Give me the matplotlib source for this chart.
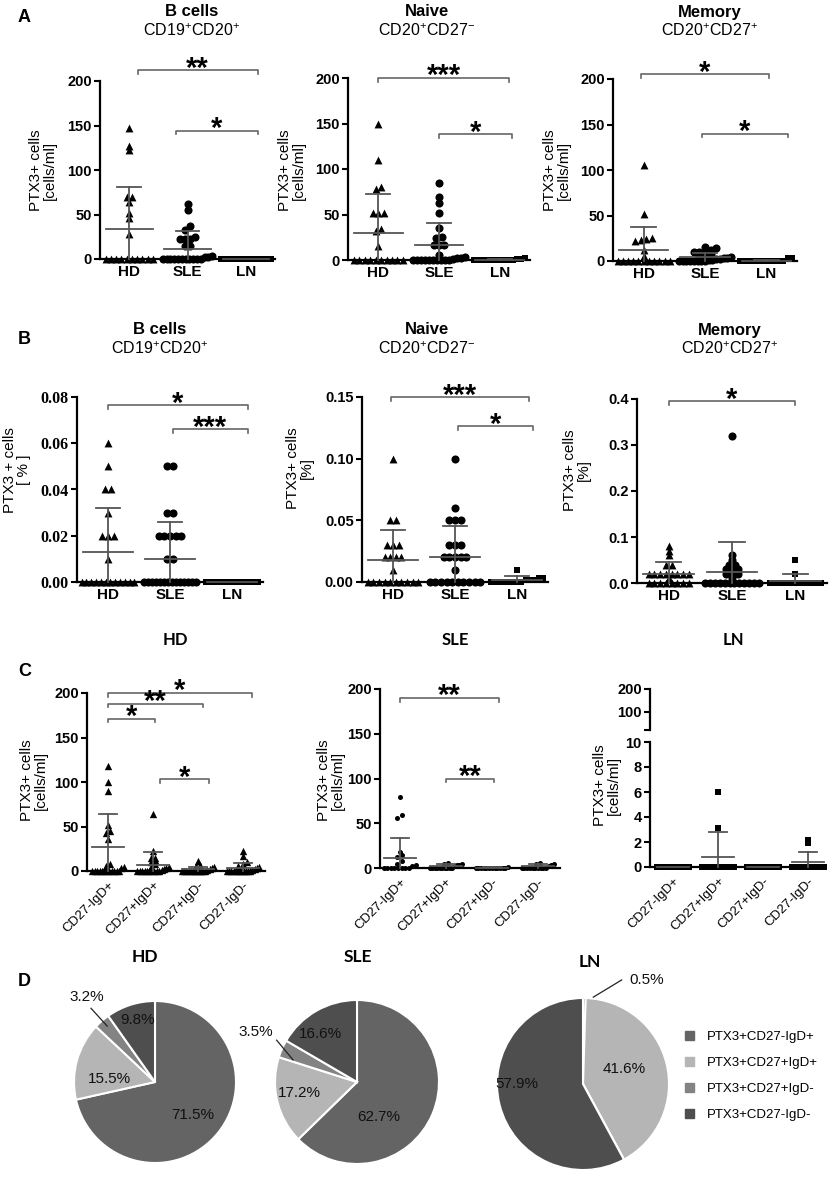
import numpy as np
import matplotlib
matplotlib.use('Agg')
import matplotlib.pyplot as plt

plt.rcParams['font.family'] = ['Liberation Sans', 'DejaVu Sans']
plt.rcParams['mathtext.fontset'] = 'custom'
plt.rcParams['mathtext.rm'] = 'Liberation Sans'
plt.rcParams['mathtext.bf'] = 'Liberation Sans:bold'

W, H = 834, 1187
LINE = '#555555'
BRK = '#666666'

groups = ['HD', 'SLE', 'LN']
subsets = ['CD27-IgD+', 'CD27+IgD+', 'CD27+IgD-', 'CD27-IgD-']
legend_labels = ['PTX3+CD27-IgD+', 'PTX3+CD27+IgD+', 'PTX3+CD27+IgD-', 'PTX3+CD27-IgD-']

# A: PTX3+ cells per ml
a_bcells = [[147, 127, 122, 70, 70, 64, 52, 46, 28] + [0] * 10,
            [62, 55, 37, 33, 25, 23, 22, 22, 15, 15, 3, 2, 2] + [0] * 11,
            [0] * 13]
a_bcells_mean = [34, 11, 0]
a_bcells_sd = [47, 20, 0]

a_naive = [[150, 110, 80, 78, 52, 52, 52, 34, 32, 15] + [0] * 10,
           [85, 69, 63, 52, 35, 25, 24, 17, 17, 16, 5, 3, 2, 2, 1] + [0] * 10,
           [2, 1, 1] + [0] * 10]
a_naive_mean = [30, 16, 0.5]
a_naive_sd = [42, 25, 0.8]

a_memory = [[106, 52, 25, 24, 23, 22, 12, 5] + [0] * 11,
            [15, 14, 12, 10, 10, 10, 8, 6, 5, 4, 3, 3, 2, 2, 1, 1] + [0] * 8,
            [3, 3] + [0] * 10]
a_memory_mean = [12, 4, 0.5]
a_memory_sd = [25, 5, 1]

# B: PTX3+ cells in %
b_bcells = [[0.06, 0.05, 0.04, 0.04, 0.03, 0.02, 0.02, 0.02, 0.01] + [0] * 12,
            [0.05, 0.05, 0.03, 0.03, 0.02, 0.02, 0.02, 0.02, 0.02, 0.01, 0.01] + [0] * 14,
            [0] * 15]
b_bcells_mean = [0.013, 0.010, 0]
b_bcells_sd = [0.019, 0.016, 0]

b_naive = [[0.10, 0.05, 0.05, 0.03, 0.03, 0.03, 0.02, 0.02, 0.02, 0.02, 0.01] + [0] * 10,
           [0.10, 0.06, 0.05, 0.05, 0.05, 0.03, 0.03, 0.03, 0.02, 0.02, 0.02, 0.02, 0.02, 0.01] + [0] * 10,
           [0.01, 0.003, 0.003, 0.002, 0.002, 0.002] + [0] * 8]
b_naive_mean = [0.018, 0.020, 0.002]
b_naive_sd = [0.024, 0.025, 0.003]

b_memory = [[0.08, 0.07, 0.06, 0.04, 0.04, 0.02, 0.02, 0.02, 0.02, 0.02, 0.02, 0.02, 0.02, 0.01] + [0] * 8,
            [0.32, 0.06, 0.05, 0.04, 0.04, 0.03, 0.03, 0.03, 0.02, 0.02, 0.02, 0.01] + [0] * 12,
            [0.05, 0.02] + [0] * 10]
b_memory_mean = [0.02, 0.025, 0.005]
b_memory_sd = [0.025, 0.065, 0.015]

# C: B cell subsets, cells per ml
c_hd = [[118, 100, 90, 52, 45, 43, 36, 8, 6, 4, 3] + [0] * 12,
        [64, 22, 15, 15, 12, 10, 8, 5, 4, 3, 2, 1] + [0] * 10,
        [11, 7, 6, 4, 3, 2, 1] + [0] * 12,
        [22, 17, 10, 8, 6, 4, 3, 2, 1] + [0] * 12]
c_hd_mean = [27, 7, 2, 3]
c_hd_sd = [37, 14, 3, 6]

c_sle = [[79, 59, 56, 18, 15, 12, 8, 5, 3, 2] + [0] * 8,
         [6, 5, 4, 3, 3, 2] + [0] * 10,
         [1] + [0] * 12,
         [6, 5, 4, 3, 2] + [0] * 10]
c_sle_mean = [11, 2, 0.2, 2]
c_sle_sd = [23, 2, 0.4, 2]

c_ln = [[0] * 10,
        [6, 3.1] + [0] * 8,
        [0] * 10,
        [2.2, 1.9] + [0] * 8]
c_ln_mean = [0, 0.8, 0, 0.4]
c_ln_sd = [0, 2.0, 0, 0.8]

# D: subset share of PTX3+ B cells (%)
pie_hd = [71.5, 15.5, 3.2, 9.8]
pie_sle = [62.7, 17.2, 3.5, 16.6]
pie_ln = [0.5, 41.6, 0, 57.9]
pie_colors = ['#646464', '#b5b5b5', '#838383', '#4e4e4e']

fig = plt.figure(figsize=(W / 100, H / 100), dpi=100)


def add_ax(x0, y0, x1, y1):
    return fig.add_axes([x0 / W, 1 - y1 / H, (x1 - x0) / W, (y1 - y0) / H])


def ftext(x, y, s, **kw):
    fig.text(x / W, 1 - y / H, s, **kw)


def swarm(vals, center, step, tol, maxw):
    vals = np.asarray(vals, float)
    xs = np.zeros(len(vals))
    rows = []
    for i in np.argsort(vals, kind='stable'):
        if rows and abs(vals[i] - vals[rows[-1][0]]) <= tol:
            rows[-1].append(i)
        else:
            rows.append([i])
    for row in rows:
        n = len(row)
        s = min(step, maxw / max(n - 1, 1))
        for k, i in enumerate(row):
            xs[i] = center + (k - (n - 1) / 2) * s
    return xs


def style(ax, ymax, yticks, ylabels, xlim, serif=False):
    for s in ['top', 'right']:
        ax.spines[s].set_visible(False)
    for s in ['left', 'bottom']:
        ax.spines[s].set_linewidth(1.6)
    ax.set_ylim(0, ymax)
    ax.set_xlim(*xlim)
    ax.set_yticks(yticks)
    if serif:
        ax.set_yticklabels(ylabels, fontweight='bold', fontsize=11.5, family=['Liberation Serif'])
    else:
        ax.set_yticklabels(ylabels, fontweight='bold', fontsize=10.5)
    ax.tick_params(axis='y', length=4, width=1.5, pad=2)
    ax.tick_params(axis='x', length=0)
    ax.patch.set_alpha(0)


def dots(ax, data, means, sds, markers, sizes, ymax, step=0.09, maxw=0.85, half=0.4, cap=0.2):
    for i, vals in enumerate(data):
        xs = swarm(vals, i, step, 0.02 * ymax, maxw)
        ax.scatter(xs, vals, marker=markers[i], s=sizes[i], color='black',
                   linewidths=0, clip_on=False, zorder=3)
        m, sd = means[i], sds[i]
        ax.plot([i - half, i + half], [m, m], color=LINE, lw=1.3, zorder=4, clip_on=False)
        if sd > 0:
            ax.plot([i, i], [max(m - sd, 0), m + sd], color=LINE, lw=1.3, zorder=4, clip_on=False)
            ax.plot([i - cap, i + cap], [m + sd, m + sd], color=LINE, lw=1.3, zorder=4, clip_on=False)


def bracket(ax, x1, x2, y, label, ymax, fs=21):
    h = 0.02 * ymax
    ax.plot([x1, x1, x2, x2], [y - h, y, y, y - h], color=BRK, lw=1.2, clip_on=False)
    ax.text((x1 + x2) / 2, y - 0.035 * ymax, label, ha='center', va='baseline',
            fontsize=fs, fontweight='bold', clip_on=False)


def group_panel(box, data, means, sds, ymax, yticks, ylabels, markers, sizes, brackets, serif=False):
    ax = add_ax(*box)
    style(ax, ymax, yticks, ylabels, (-0.5, 2.5), serif)
    dots(ax, data, means, sds, markers, sizes, ymax)
    ax.set_xticks(range(3))
    ax.set_xticklabels(groups, fontweight='bold', fontsize=11)
    ax.tick_params(axis='x', pad=4)
    for b in brackets:
        bracket(ax, *b, ymax)
    return ax


ab_marks = ['^', 'o', 's']
ab_sizes = [32, 34, 16]

# ---- row A
ftext(18, 18, 'A', fontsize=13, fontweight='bold', va='center')
group_panel((100, 81, 275, 259), a_bcells, a_bcells_mean, a_bcells_sd, 200,
            [0, 50, 100, 150, 200], ['0', '50', '100', '150', '200'], ab_marks, ab_sizes,
            [(0.15, 2.2, 212, '**'), (0.8, 2.2, 144, '*')])
group_panel((348, 78, 530, 260), a_naive, a_naive_mean, a_naive_sd, 200,
            [0, 50, 100, 150, 200], ['0', '50', '100', '150', '200'], ab_marks, ab_sizes,
            [(0.0, 2.15, 200, '***'), (1.0, 2.2, 138, '*')])
group_panel((613, 79, 797, 261), a_memory, a_memory_mean, a_memory_sd, 200,
            [0, 50, 100, 150, 200], ['0', '50', '100', '150', '200'], ab_marks, ab_sizes,
            [(-0.05, 2.05, 205, '*'), (0.95, 2.35, 140, '*')])

for x, t1, t2 in [(192, 'B cells', r'CD19$^{+}$CD20$^{+}$'),
                  (427, 'Naive', r'CD20$^{+}$CD27$^{-}$'),
                  (710, 'Memory', r'CD20$^{+}$CD27$^{+}$')]:
    ftext(x, 12, t1, fontsize=12, fontweight='bold', ha='center', va='center')
    ftext(x, 31, t2, fontsize=11.5, ha='center', va='center')

for x, y in [(43, 170), (292, 170), (557, 170)]:
    ftext(x, y, 'PTX3+ cells\n[cells/ml]', fontsize=11, rotation=90, ha='center', va='center',
          multialignment='center', linespacing=1.05)

# ---- row B
ftext(18, 340, 'B', fontsize=13, fontweight='bold', va='center')
group_panel((77, 397, 263, 582), b_bcells, b_bcells_mean, b_bcells_sd, 0.08,
            [0, 0.02, 0.04, 0.06, 0.08], ['0.00', '0.02', '0.04', '0.06', '0.08'],
            ab_marks, ab_sizes,
            [(0.0, 2.25, 0.0765, '*'), (1.05, 2.25, 0.066, '***')], serif=True)
group_panel((362, 397, 548, 582), b_naive, b_naive_mean, b_naive_sd, 0.15,
            [0, 0.05, 0.10, 0.15], ['0.00', '0.05', '0.10', '0.15'], ab_marks, ab_sizes,
            [(-0.03, 2.2, 0.15, '***'), (1.05, 2.25, 0.1265, '*')])
group_panel((637, 399, 827, 583), b_memory, b_memory_mean, b_memory_sd, 0.4,
            [0, 0.1, 0.2, 0.3, 0.4], ['0.0', '0.1', '0.2', '0.3', '0.4'], ab_marks, ab_sizes,
            [(0.0, 2.0, 0.395, '*')])

for x, t1, t2 in [(160, 'B cells', r'CD19$^{+}$CD20$^{+}$'),
                  (427, 'Naive', r'CD20$^{+}$CD27$^{-}$'),
                  (730, 'Memory', r'CD20$^{+}$CD27$^{+}$')]:
    ftext(x, 330, t1, fontsize=12, fontweight='bold', ha='center', va='center')
    ftext(x, 349, t2, fontsize=11.5, ha='center', va='center')

ftext(17, 470, 'PTX3 + cells\n[ % ]', fontsize=11, rotation=90, ha='center', va='center',
      multialignment='center', linespacing=1.05)
for x, y in [(300, 468), (577, 470)]:
    ftext(x, y, 'PTX3+ cells\n[%]', fontsize=11, rotation=90, ha='center', va='center',
          multialignment='center', linespacing=1.05)

# ---- row C


def subset_panel(box, xlim, data, means, sds, ymax, yticks, marker, size, brackets):
    ax = add_ax(*box)
    style(ax, ymax, yticks, [str(t) for t in yticks], xlim)
    dots(ax, data, means, sds, [marker] * 4, [size] * 4, ymax, step=0.1, maxw=0.7, half=0.35, cap=0.2)
    ax.set_xticks(range(4))
    ax.set_xticklabels(subsets, rotation=45, ha='right', rotation_mode='anchor', fontsize=9.5)
    ax.tick_params(axis='x', pad=6)
    for b in brackets:
        bracket(ax, *b, ymax)
    return ax


ftext(18, 672, 'C', fontsize=13, fontweight='bold', va='center')
subset_panel((87, 693, 265, 871), (-0.47, 3.49), c_hd, c_hd_mean, c_hd_sd, 200,
             [0, 50, 100, 150, 200], '^', 28,
             [(0.0, 3.2, 200, '*'), (0.0, 2.1, 188, '**'), (0.0, 1.05, 171, '*'),
              (1.15, 2.25, 103, '*')])
subset_panel((380, 689, 560, 868), (-0.43, 3.48), c_sle, c_sle_mean, c_sle_sd, 200,
             [0, 50, 100, 150, 200], 'o', 13,
             [(0.0, 2.15, 190, '**'), (1.0, 2.04, 100, '**')])

# LN with broken y axis
ax_lo = subset_panel((650, 742, 823, 867), (-0.51, 3.33), c_ln, c_ln_mean, c_ln_sd, 10,
                     [0, 2, 4, 6, 8, 10], 's', 13, [])
ax_hi = add_ax(650, 689, 823, 730)
style(ax_hi, 200, [21, 100, 200], ['', '100', '200'], (-0.51, 3.33))
ax_hi.set_ylim(21, 200)
ax_hi.spines['bottom'].set_visible(False)
ax_hi.set_xticks([])

for x, t in [(175, 'HD'), (455, 'SLE'), (733, 'LN')]:
    ftext(x, 640, t, fontsize=12, fontweight='bold', ha='center', va='center', family=['Lato'])

for x, y in [(34, 780), (331, 780), (607, 785)]:
    ftext(x, y, 'PTX3+ cells\n[cells/ml]', fontsize=11, rotation=90, ha='center', va='center',
          multialignment='center', linespacing=1.05)

# ---- row D
ftext(18, 982, 'D', fontsize=13, fontweight='bold', va='center')


def pie_panel(cx, cy, r, vals, txtpos, leader):
    half = r * 1.25
    ax = add_ax(cx - half, cy - half, cx + half, cy + half)
    wedges, _ = ax.pie(vals, colors=pie_colors, startangle=90, counterclock=False,
                       wedgeprops=dict(edgecolor='white', linewidth=1.5))
    ax.set_xlim(-1.25, 1.25)
    ax.set_ylim(-1.25, 1.25)
    ax.set_aspect('equal')
    for i, pos in enumerate(txtpos):
        if pos is not None:
            ax.text(pos[0], pos[1], f'{vals[i]}%', ha='center', va='center', fontsize=11,
                    color='#111111')
    i, tpos, p0, p1 = leader
    ax.text(tpos[0], tpos[1], f'{vals[i]}%', ha='center', va='center', fontsize=11,
            color='#111111', clip_on=False)
    ax.plot([p0[0], p1[0]], [p0[1], p1[1]], color='#222222', lw=0.9, clip_on=False)
    return wedges


pie_panel(155, 1082, 81, pie_hd,
          [(0.46, -0.41), (-0.56, 0.04), None, (-0.21, 0.77)],
          (2, (-0.84, 1.05), (-0.79, 0.91), (-0.59, 0.69)))
pie_panel(357, 1082, 82, pie_sle,
          [(0.26, -0.43), (-0.70, -0.13), None, (-0.44, 0.59)],
          (2, (-1.23, 0.61), (-0.98, 0.51), (-0.78, 0.27)))
pie_panel(583, 1084, 86, pie_ln,
          [None, (0.48, 0.17), None, (-0.77, 0.0)],
          (0, (0.74, 1.21), (0.45, 1.21), (0.12, 1.01)))

for x, y, t in [(145, 957, 'HD'), (358, 957, 'SLE'), (590, 962, 'LN')]:
    ftext(x, y, t, fontsize=12.5, fontweight='bold', ha='center', va='center', family=['Lato'])

handles = [plt.Rectangle((0, 0), 1, 1, color=c) for c in pie_colors]
fig.legend(handles, legend_labels, loc='upper left', bbox_to_anchor=(678 / W, 1 - 1024 / H),
           frameon=False, fontsize=9.5, handlelength=0.7, handleheight=0.7, handletextpad=1.0,
           labelspacing=1.05, borderpad=0)

fig.savefig('out.png', dpi=100)
